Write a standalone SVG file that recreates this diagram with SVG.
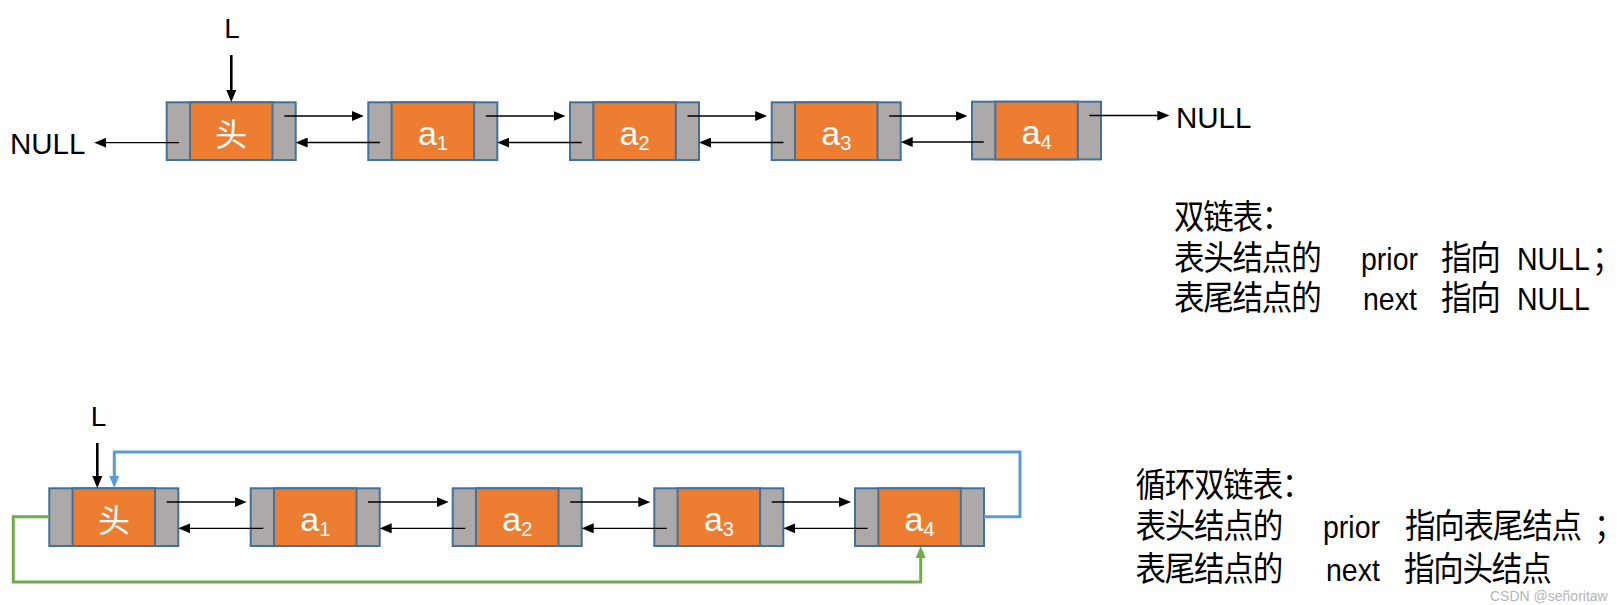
<svg xmlns="http://www.w3.org/2000/svg" width="1624" height="605" viewBox="0 0 1624 605">
<style>
.cell{fill:#ADA9A9;stroke:#41719C;stroke-width:2}
.data{fill:#ED7D31;stroke:#41719C;stroke-width:2}
.lbl{font-family:"Liberation Sans",sans-serif;fill:#fff;font-size:34px;text-anchor:middle}
.sub{font-size:20px}
.hd{font-family:"Noto Sans CJK SC",sans-serif;font-size:32px;fill:#fff;text-anchor:middle}
.ptr{stroke:#000;stroke-width:1.3;fill:none;marker-end:url(#ah)}
.lptr{stroke:#000;stroke-width:2.6;fill:none;marker-end:url(#ah)}
.blue{stroke:#5B9BD5;stroke-width:3;fill:none;marker-end:url(#ahB)}
.green{stroke:#70AD47;stroke-width:3;fill:none;marker-end:url(#ahG)}
.lat{font-family:"Liberation Sans",sans-serif;fill:#000}
.txt{font-family:"Liberation Sans","Noto Sans CJK SC",sans-serif;font-size:30.5px;letter-spacing:-1.2px;fill:#000}
.en{font-size:28.5px;letter-spacing:0}
.wm{font-family:"Liberation Sans",sans-serif;font-size:14px;fill:#b4b4b4}
</style>
<defs>
<marker id="ah" markerUnits="userSpaceOnUse" markerWidth="12" markerHeight="10" refX="2" refY="5" orient="auto"><path d="M0,0L12,5L0,10z" fill="#000"/></marker>
<marker id="ahB" markerUnits="userSpaceOnUse" markerWidth="12" markerHeight="10" refX="2" refY="5" orient="auto"><path d="M0,0L12,5L0,10z" fill="#5B9BD5"/></marker>
<marker id="ahG" markerUnits="userSpaceOnUse" markerWidth="12" markerHeight="10" refX="2" refY="5" orient="auto"><path d="M0,0L12,5L0,10z" fill="#70AD47"/></marker>
</defs>
<rect width="1624" height="605" fill="#fff"/>

<!-- top list -->
<g id="t-head">
<rect class="cell" x="166.7" y="102.3" width="129" height="57.7"/>
<rect class="data" x="190" y="102.3" width="82.5" height="57.7"/>
<text class="hd" x="231.3" y="146">头</text>
</g>
<g id="t-a1">
<rect class="cell" x="368.3" y="102.3" width="129" height="57.7"/>
<rect class="data" x="391.6" y="102.3" width="82.5" height="57.7"/>
<text class="lbl" x="432.9" y="144.5">a<tspan class="sub" dy="5">1</tspan></text>
</g>
<g id="t-a2">
<rect class="cell" x="570" y="102.3" width="129" height="57.7"/>
<rect class="data" x="593.3" y="102.3" width="82.5" height="57.7"/>
<text class="lbl" x="634.6" y="144.5">a<tspan class="sub" dy="5">2</tspan></text>
</g>
<g id="t-a3">
<rect class="cell" x="771.7" y="102.3" width="129" height="57.7"/>
<rect class="data" x="795" y="102.3" width="82.5" height="57.7"/>
<text class="lbl" x="836.3" y="144.5">a<tspan class="sub" dy="5">3</tspan></text>
</g>
<g id="t-a4">
<rect class="cell" x="972" y="101.7" width="129" height="57.7"/>
<rect class="data" x="995.3" y="101.7" width="82.5" height="57.7"/>
<text class="lbl" x="1036.6" y="144">a<tspan class="sub" dy="5">4</tspan></text>
</g>
<g id="t-L"><text class="lat" x="232" y="38" font-size="28" text-anchor="middle">L</text></g>
<g id="t-null-left"><text class="lat" x="10" y="154" font-size="29.5">NULL</text></g>
<g id="t-null-right"><text class="lat" x="1176" y="127.7" font-size="29.5">NULL</text></g>

<!-- bottom list -->
<g id="b-head">
<rect class="cell" x="49.3" y="488.3" width="129" height="57.7"/>
<rect class="data" x="72.6" y="488.3" width="82.5" height="57.7"/>
<text class="hd" x="113.9" y="532">头</text>
</g>
<g id="b-a1">
<rect class="cell" x="250.7" y="488.3" width="129" height="57.7"/>
<rect class="data" x="274" y="488.3" width="82.5" height="57.7"/>
<text class="lbl" x="315.3" y="531">a<tspan class="sub" dy="5">1</tspan></text>
</g>
<g id="b-a2">
<rect class="cell" x="452.7" y="488.3" width="129" height="57.7"/>
<rect class="data" x="476" y="488.3" width="82.5" height="57.7"/>
<text class="lbl" x="517.3" y="531">a<tspan class="sub" dy="5">2</tspan></text>
</g>
<g id="b-a3">
<rect class="cell" x="654.3" y="488.3" width="129" height="57.7"/>
<rect class="data" x="677.6" y="488.3" width="82.5" height="57.7"/>
<text class="lbl" x="718.9" y="531">a<tspan class="sub" dy="5">3</tspan></text>
</g>
<g id="b-a4">
<rect class="cell" x="855" y="488.3" width="129" height="57.7"/>
<rect class="data" x="878.3" y="488.3" width="82.5" height="57.7"/>
<text class="lbl" x="919.6" y="531">a<tspan class="sub" dy="5">4</tspan></text>
</g>
<g id="b-L"><text class="lat" x="98.5" y="426" font-size="28" text-anchor="middle">L</text></g>

<!-- connectors -->
<g id="connectors">
<path class="lptr" d="M231.3,55V92"/>
<path class="ptr" d="M179,142.7H104.3"/>
<path class="ptr" d="M284.2,116H353.8"/>
<path class="ptr" d="M485.8,116H555.5"/>
<path class="ptr" d="M687.5,116H757.2"/>
<path class="ptr" d="M889.2,116H957.5"/>
<path class="ptr" d="M1089.3,115.5H1159.3"/>
<path class="ptr" d="M380,142.5H305.7"/>
<path class="ptr" d="M581.7,142.5H507.3"/>
<path class="ptr" d="M783.4,142.5H709"/>
<path class="ptr" d="M983.7,142H910.7"/>

<path class="lptr" d="M97.3,443V478"/>
<path class="ptr" d="M166.7,502H236.7"/>
<path class="ptr" d="M368.1,502H438.7"/>
<path class="ptr" d="M570.1,502H640.3"/>
<path class="ptr" d="M771.7,502H841"/>
<path class="ptr" d="M263.3,528.3H188.3"/>
<path class="ptr" d="M465.3,528.3H389.7"/>
<path class="ptr" d="M666.9,528.3H591.7"/>
<path class="ptr" d="M867.6,528.3H793.3"/>
<path class="blue" d="M984,516.7H1020V452H114.3V478"/>
<path class="green" d="M49.3,516.7H13.3V582H920.7V556"/>
</g>

<!-- captions -->
<g id="caption-top">
<text class="txt" transform="matrix(1,0,0,1.1,0,229)" y="0"><tspan x="1174">双链表：</tspan></text>
<text class="txt" transform="matrix(1,0,0,1.1,0,270)" y="0"><tspan x="1174">表头结点的</tspan><tspan class="en" x="1361">prior</tspan><tspan x="1441">指向</tspan><tspan class="en" x="1517">NULL</tspan><tspan x="1592">；</tspan></text>
<text class="txt" transform="matrix(1,0,0,1.1,0,310)" y="0"><tspan x="1174">表尾结点的</tspan><tspan class="en" x="1363">next</tspan><tspan x="1441">指向</tspan><tspan class="en" x="1517">NULL</tspan></text>
</g>
<g id="caption-bottom">
<text class="txt" transform="matrix(1,0,0,1.1,0,497)" y="0"><tspan x="1135.5">循环双链表：</tspan></text>
<text class="txt" transform="matrix(1,0,0,1.1,0,538)" y="0"><tspan x="1135.5">表头结点的</tspan><tspan class="en" x="1323">prior</tspan><tspan x="1405">指向表尾结点</tspan><tspan x="1594">；</tspan></text>
<text class="txt" transform="matrix(1,0,0,1.1,0,581)" y="0"><tspan x="1135.5">表尾结点的</tspan><tspan class="en" x="1326">next</tspan><tspan x="1404">指向头结点</tspan></text>
</g>
<text class="wm" x="1490" y="601">CSDN @señoritaw</text>
</svg>
